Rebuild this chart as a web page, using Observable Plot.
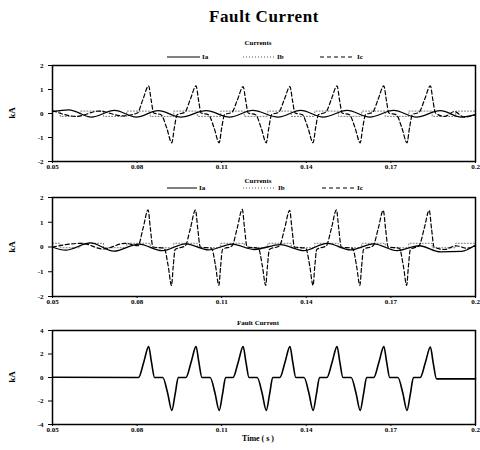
<!DOCTYPE html>
<html><head><meta charset="utf-8">
<script src="https://cdn.jsdelivr.net/npm/d3@7"></script>
<script src="https://cdn.jsdelivr.net/npm/@observablehq/plot@0.6"></script>
<style>
body{margin:0;background:#fff;}
#wrap{position:relative;width:480px;height:450px;font-family:"Liberation Serif","Times New Roman",serif;color:#000;overflow:hidden;background:#fff}
.abs{position:absolute;white-space:nowrap;}
</style></head><body><div id="wrap"></div>
<script>
// ---- data ----
const xTicks = [0.05, 0.08, 0.11, 0.14, 0.17, 0.2];
const xTickLabels = ["0.05", "0.08", "0.11", "0.14", "0.17", "0.2"];
const yTicksCur = [-2, -1, 0, 1, 2];
const yTicksFault = [-4, -2, 0, 2, 4];
const seriesNames = ["Ia", "Ib", "Ic"];

// Panel 1 - Currents
const ia1T = [0.0500,0.0558,0.0638,0.0720,0.0797,0.0875,0.0955,0.1045,0.1128,0.1210,0.1300,0.1380,0.1460,0.1545,0.1625,0.1710,0.1790,0.1875,0.1950,0.2000];
const ia1V = [0.08,0.15,-0.15,0.13,-0.15,0.12,-0.15,0.12,-0.15,0.13,-0.15,0.13,-0.15,0.13,-0.15,0.13,-0.15,0.12,-0.15,-0.05];
const ib1T = [0.0500,0.0555,0.0640,0.0722,0.0805,0.0888,0.0972,0.1055,0.1138,0.1222,0.1305,0.1388,0.1472,0.1555,0.1638,0.1722,0.1805,0.1888,0.1972,0.2000];
const ib1V = [0.10,-0.12,0.10,-0.12,0.10,-0.12,0.10,-0.12,0.10,-0.12,0.10,-0.12,0.10,-0.12,0.10,-0.12,0.10,-0.12,0.10,0.10];
const ic1T = [0.0500,0.0585,0.0665,0.0748,
  0.0801,0.0821,0.0841,0.0850,0.0859,0.0885,0.0905,0.0923,0.0932,0.0942,
  0.0969,0.0989,0.1009,0.1018,0.1027,0.1053,0.1073,0.1091,0.1100,0.1110,
  0.1136,0.1156,0.1176,0.1185,0.1194,0.1220,0.1240,0.1258,0.1267,0.1277,
  0.1302,0.1322,0.1342,0.1351,0.1360,0.1386,0.1406,0.1424,0.1433,0.1443,
  0.1469,0.1489,0.1509,0.1518,0.1527,0.1553,0.1573,0.1591,0.1600,0.1610,
  0.1635,0.1655,0.1675,0.1684,0.1693,0.1719,0.1739,0.1757,0.1766,0.1776,
  0.1800,0.1820,0.1840,0.1849,0.1858,0.1890,0.1925,0.1960,0.2000];
const ic1V = [0.12,-0.12,0.10,-0.10,
  0.02,0.60,1.15,0.55,0.02,-0.05,-0.60,-1.22,-0.60,-0.05,
  0.05,0.60,1.15,0.55,0.02,-0.05,-0.60,-1.22,-0.60,-0.05,
  0.05,0.58,1.12,0.55,0.02,-0.05,-0.60,-1.22,-0.60,-0.05,
  0.05,0.58,1.12,0.55,0.02,-0.05,-0.60,-1.22,-0.60,-0.05,
  0.05,0.60,1.15,0.55,0.02,-0.05,-0.60,-1.22,-0.60,-0.05,
  0.05,0.60,1.15,0.55,0.02,-0.05,-0.60,-1.22,-0.60,-0.05,
  0.05,0.60,1.15,0.55,0.02,-0.12,0.08,-0.15,-0.05];

// Panel 2 - Currents
const ia2T = [0.0500,0.0546,0.0635,0.0717,0.0806,0.0889,0.0972,0.1054,0.1137,0.1214,0.1308,0.1391,0.1474,0.1557,0.1639,0.1722,0.1800,0.1876,0.1950,0.2000];
const ia2V = [0.00,-0.13,0.17,-0.17,0.12,-0.15,0.13,-0.12,0.12,-0.10,0.10,-0.15,0.15,-0.12,0.13,-0.15,0.05,-0.20,-0.18,0.08];
const ib2T = [0.0500,0.0555,0.0640,0.0722,0.0805,0.0888,0.0972,0.1055,0.1138,0.1222,0.1305,0.1388,0.1472,0.1555,0.1638,0.1722,0.1805,0.1888,0.1972,0.2000];
const ib2V = [0.15,-0.03,0.15,-0.03,0.15,-0.03,0.15,-0.03,0.15,-0.03,0.15,-0.03,0.15,-0.03,0.15,-0.03,0.15,-0.03,0.15,0.15];
const ic2T = [0.0500,0.0603,0.0680,0.0757,
  0.0803,0.0821,0.0839,0.0847,0.0856,0.0896,0.0910,0.0922,0.0928,0.0935,
  0.0971,0.0989,0.1007,0.1015,0.1024,0.1064,0.1078,0.1090,0.1096,0.1103,
  0.1137,0.1155,0.1173,0.1181,0.1190,0.1230,0.1244,0.1256,0.1262,0.1269,
  0.1305,0.1323,0.1341,0.1349,0.1358,0.1398,0.1412,0.1424,0.1430,0.1437,
  0.1471,0.1489,0.1507,0.1515,0.1524,0.1564,0.1578,0.1590,0.1596,0.1603,
  0.1637,0.1655,0.1673,0.1681,0.1690,0.1730,0.1744,0.1756,0.1762,0.1769,
  0.1800,0.1818,0.1836,0.1844,0.1853,0.1890,0.1930,0.1970,0.2000];
const ic2V = [0.00,0.15,-0.08,0.15,
  0.05,0.75,1.50,0.75,0.00,-0.05,-0.75,-1.55,-0.80,-0.10,
  0.05,0.75,1.50,0.75,0.00,-0.05,-0.75,-1.55,-0.80,-0.10,
  0.05,0.76,1.52,0.75,0.00,-0.05,-0.75,-1.55,-0.80,-0.10,
  0.05,0.74,1.48,0.75,0.00,-0.05,-0.75,-1.55,-0.80,-0.10,
  0.05,0.75,1.50,0.75,0.00,-0.05,-0.75,-1.55,-0.80,-0.10,
  0.05,0.74,1.48,0.75,0.00,-0.05,-0.75,-1.55,-0.80,-0.10,
  0.05,0.74,1.48,0.75,0.00,-0.10,0.05,-0.05,0.05];

// Panel 3 - Fault Current
const ifT = [0.0500,
  0.0805,0.0824,0.0841,0.0851,0.0862,0.0891,0.0908,0.0923,0.0935,0.0946,
  0.0973,0.0992,0.1009,0.1019,0.1030,0.1059,0.1076,0.1091,0.1103,0.1114,
  0.1140,0.1159,0.1176,0.1186,0.1197,0.1226,0.1243,0.1258,0.1270,0.1281,
  0.1306,0.1325,0.1342,0.1352,0.1363,0.1392,0.1409,0.1424,0.1436,0.1447,
  0.1473,0.1492,0.1509,0.1519,0.1530,0.1559,0.1576,0.1591,0.1603,0.1614,
  0.1639,0.1658,0.1675,0.1685,0.1696,0.1725,0.1742,0.1757,0.1769,0.1780,
  0.1804,0.1823,0.1840,0.1850,0.1862,0.2000];
const ifV = [0.02,
  0.00,1.35,2.63,1.30,0.00,0.00,-1.30,-2.80,-1.40,0.00,
  0.00,1.35,2.63,1.30,0.00,0.00,-1.30,-2.80,-1.40,0.00,
  0.00,1.35,2.63,1.30,0.00,0.00,-1.30,-2.80,-1.40,0.00,
  0.00,1.35,2.63,1.30,0.00,0.00,-1.30,-2.80,-1.40,0.00,
  0.00,1.35,2.63,1.30,0.00,0.00,-1.30,-2.80,-1.40,0.00,
  0.00,1.35,2.63,1.30,0.00,0.00,-1.30,-2.80,-1.40,0.00,
  0.00,1.35,2.60,1.25,-0.12,-0.12];

// ---- helpers ----
const rows = (T, V) => T.map((t, i) => ({t, v: V[i]}));
const wrap = document.getElementById("wrap");
const FONT = '"Liberation Serif","Times New Roman",serif';

function addText(txt, x, y, size, bold, anchor = "middle", rotate = false, spacing = 0) {
  const d = document.createElement("div");
  d.className = "abs";
  d.textContent = txt;
  d.style.fontSize = size + "px";
  d.style.fontWeight = bold ? "bold" : "normal";
  d.style.lineHeight = "1";
  d.style.letterSpacing = spacing + "px";
  d.style.left = x + "px";
  d.style.top = y + "px";
  let tr = anchor === "middle" ? "translate(-50%,-50%)" : "translate(0,-50%)";
  if (rotate) tr += " rotate(-90deg)";
  d.style.transform = tr;
  wrap.appendChild(d);
}

function addLegend(y, items) {
  const svg = d3.create("svg").attr("width", 480).attr("height", 12)
    .style("position", "absolute").style("left", "0px").style("top", (y - 6) + "px");
  for (const it of items) {
    svg.append("line").attr("x1", it.x1).attr("x2", it.x2).attr("y1", 6).attr("y2", 6)
      .attr("stroke", it.color || "#000").attr("stroke-width", it.w || 1)
      .attr("stroke-dasharray", it.dash || null);
    svg.append("text").attr("x", it.x2 + 2).attr("y", 6).attr("dy", "0.35em")
      .attr("font-family", FONT).attr("font-size", 7).attr("font-weight", "bold").text(it.label);
  }
  wrap.appendChild(svg.node());
}

function panel({top, frameH, yDomain, yTicks, series, mb = 14}) {
  const mt = 8;
  const p = Plot.plot({
    width: 480,
    height: mt + frameH + mb,
    marginTop: mt, marginBottom: mb, marginLeft: 52, marginRight: 5,
    style: {fontFamily: FONT, fontSize: "7px", fontWeight: "bold", background: "transparent", overflow: "visible"},
    x: {domain: [0.05, 0.2]},
    y: {domain: yDomain},
    marks: [
      ...series.map(s => Plot.line(s.data, {x: "t", y: "v", curve: s.curve || "monotone-x", stroke: s.color || "#000",
        strokeWidth: s.w || 1.2, strokeDasharray: s.dash || null})),
      Plot.frame({stroke: "#000", strokeWidth: 1.5}),
      Plot.axisX({ticks: xTicks, tickFormat: (d, i) => xTickLabels[i], tickSize: 2, tickPadding: 1, label: null}),
      Plot.axisY({ticks: yTicks, tickFormat: d => String(d), tickSize: 4, tickPadding: 5, label: null})
    ]
  });
  p.style.position = "absolute";
  p.style.left = "0px";
  p.style.top = (top - mt) + "px";
  wrap.appendChild(p);
}

// ---- title ----
addText("Fault Current", 264, 16, 17, true, "middle", false, 0.6);

// ---- panel 1 ----
addText("Currents", 258, 43, 7, true);
addLegend(57, [
  {x1: 167, x2: 200, label: seriesNames[0]},
  {x1: 243, x2: 275, label: seriesNames[1], dash: "1,2", color: "#555"},
  {x1: 320, x2: 355, label: seriesNames[2], dash: "4,3"}
]);
panel({top: 65, frameH: 96, yDomain: [-2, 2], yTicks: yTicksCur, series: [
  {data: rows(ib1T, ib1V), curve: "step", dash: "1,2", color: "#777", w: 1},
  {data: rows(ia1T, ia1V), w: 1.3},
  {data: rows(ic1T, ic1V), dash: "4,2.5", w: 1.2}
]});
addText("kA", 12, 113, 9, true, "middle", true);

// ---- panel 2 ----
addText("Currents", 258, 181, 7, true);
addLegend(188, [
  {x1: 167, x2: 197, label: seriesNames[0]},
  {x1: 243, x2: 276, label: seriesNames[1], dash: "1,2", color: "#555"},
  {x1: 322, x2: 355, label: seriesNames[2], dash: "4,3"}
]);
panel({top: 197, frameH: 99, yDomain: [-2, 2], yTicks: yTicksCur, series: [
  {data: rows(ib2T, ib2V), curve: "step", dash: "1,2", color: "#777", w: 1},
  {data: rows(ia2T, ia2V), w: 1.3},
  {data: rows(ic2T, ic2V), dash: "4,2.5", w: 1.2}
]});
addText("kA", 12, 247, 9, true, "middle", true);

// ---- panel 3 ----
addText("Fault Current", 258, 323, 7, true);
panel({top: 330, frameH: 94, yDomain: [-4, 4], yTicks: yTicksFault, series: [
  {data: rows(ifT, ifV), w: 1.6}
]});
addText("kA", 12, 377, 9, true, "middle", true);
addText("Time ( s )", 258, 439, 8, true);
</script>
</body></html>
